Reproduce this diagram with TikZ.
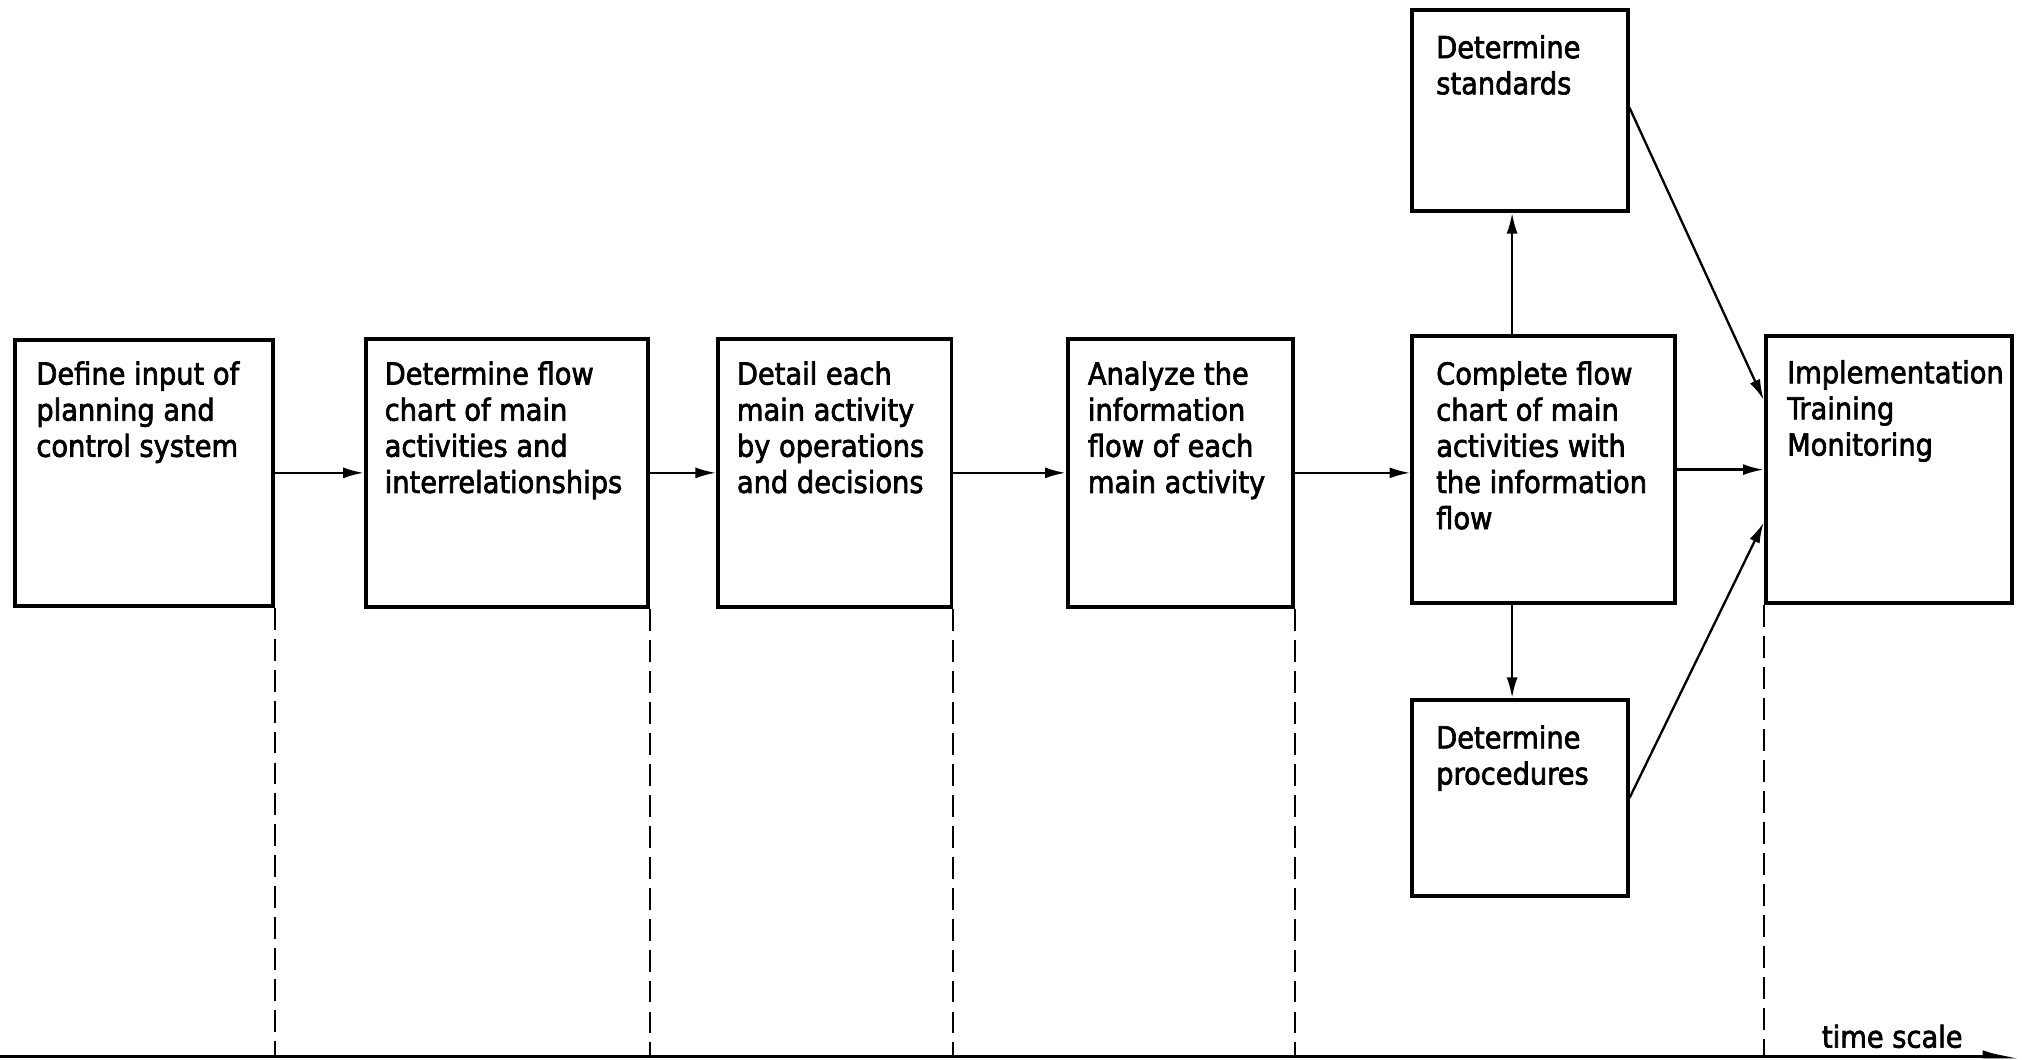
\documentclass[tikz,border=0pt]{standalone}
\usepackage{fontspec}
\setmainfont{DejaVu Sans Condensed}
\newfontfamily\boxfont{DejaVu Sans Condensed}[FakeBold=2.2]
\usetikzlibrary{arrows.meta,calc}

\tikzset{
  stepbox/.style={draw, line width=3pt, rectangle, inner sep=0pt, anchor=north west},
  lbl/.style={anchor=north west, inner sep=0pt, align=left,
    font=\boxfont\fontsize{23.5}{28}\selectfont},
  arr/.style={line width=1.8pt, -{Latex[length=16pt,width=8.5pt]}},
  guide/.style={line width=1.5pt, dash pattern=on 17pt off 7pt},
  axisline/.style={line width=2.8pt, -{Latex[left,length=22pt,width=10pt]}},
}

\begin{document}
\begin{tikzpicture}[x=1pt,y=-1pt]
\useasboundingbox[fill=white] (0,0) rectangle (1568,821);

% main chain of steps
\node[stepbox, minimum width=200pt, minimum height=206pt] (b1) at (10,262) {};
\node[stepbox, minimum width=219pt, minimum height=208pt] (b2) at (282,261) {};
\node[stepbox, minimum width=181pt, minimum height=208pt] (b3) at (555,261) {};
\node[stepbox, minimum width=175pt, minimum height=208pt] (b4) at (826,261) {};
\node[stepbox, minimum width=204pt, minimum height=207pt] (b5) at (1093,259) {};
\node[stepbox, minimum width=191pt, minimum height=207pt] (b6) at (1367,259) {};
% side steps
\node[stepbox, minimum width=167pt, minimum height=156pt] (bs) at (1093,6) {};
\node[stepbox, minimum width=167pt, minimum height=152pt] (bp) at (1093,541) {};

% texts
\node[lbl] (t1) at (28,280) {Define input of\\planning and\\control system};
\node[lbl] (t2) at (298,280) {Determine flow\\chart of main\\activities and\\interrelationships};
\node[lbl] (t3) at (571,280) {Detail each\\main activity\\by operations\\and decisions};
\node[lbl] (t4) at (843,280) {Analyze the\\information\\flow of each\\main activity};
\node[lbl] (t5) at (1113,280) {Complete flow\\chart of main\\activities with\\the information\\flow};
\node[lbl] (t6) at (1385,279) {Implementation\\Training\\Monitoring};
\node[lbl] (ts) at (1113,27) {Determine\\standards};
\node[lbl] (tp) at (1113,562) {Determine\\procedures};

% horizontal flow
\draw[arr] (b1.east) -- (b1.east -| b2.west);
\draw[arr] (b2.east) -- (b2.east -| b3.west);
\draw[arr] (b3.east) -- (b3.east -| b4.west);
\draw[arr] (b4.east) -- (b4.east -| b5.west);
\draw[arr] (b5.east) -- (b5.east -| b6.west);

% branches to standards and procedures
\path (b5.north west) ++(79,0) coordinate (up);
\path (b5.south west) ++(79,0) coordinate (dn);
\draw[arr] (up) -- (up |- bs.south);
\draw[arr] (dn) -- (dn |- bp.north);

% merging into implementation
\draw[arr] ([yshift=2pt]bs.east) -- ([yshift=54pt]b6.west);
\draw[arr] (bp.east) -- ([yshift=-41pt]b6.west);

% time axis with guides
\coordinate (axL) at (0,819);
\coordinate (axR) at (1568,819);
\draw[axisline] (axL) -- (axR);
\draw[guide] (b1.south east) -- (b1.south east |- axL);
\draw[guide] (b2.south east) -- (b2.south east |- axL);
\draw[guide] (b3.south east) -- (b3.south east |- axL);
\draw[guide] (b4.south east) -- (b4.south east |- axL);
\draw[guide] (b6.south west) -- (b6.south west |- axL);
\node[lbl, anchor=base west] (tt) at (1412,812) {time scale};
\end{tikzpicture}
\end{document}
